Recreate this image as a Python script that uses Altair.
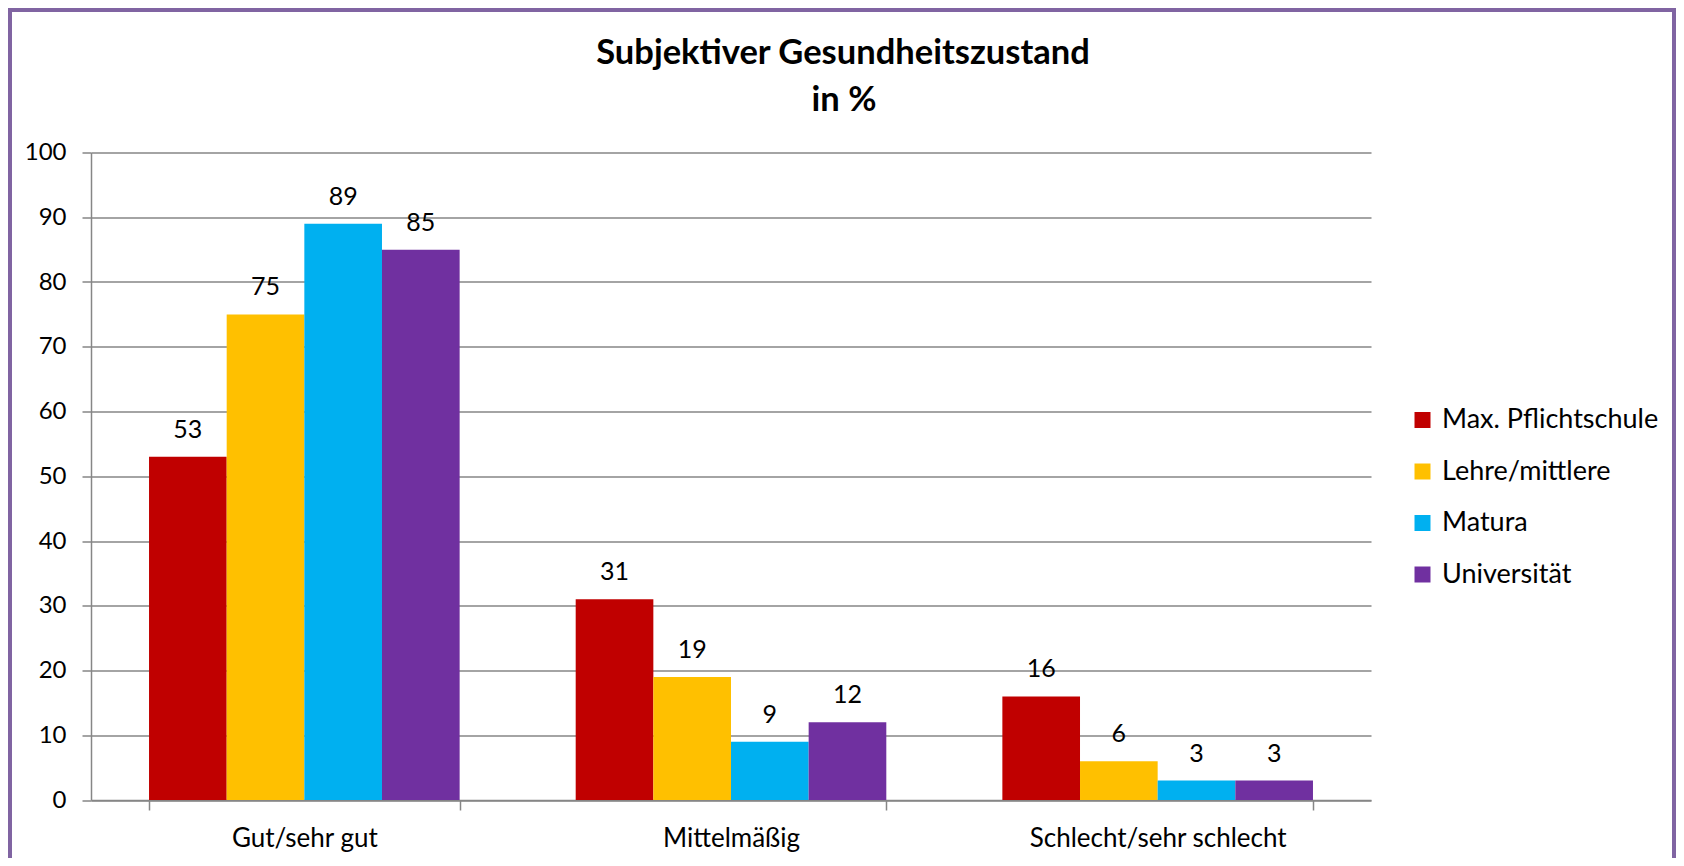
import altair as alt
import pandas as pd

categories = ["Gut/sehr gut", "Mittelmäßig", "Schlecht/sehr schlecht"]
series = ["Max. Pflichtschule", "Lehre/mittlere", "Matura", "Universität"]
val_pflicht = [53, 31, 16]
val_lehre = [75, 19, 6]
val_matura = [89, 9, 3]
val_uni = [85, 12, 3]
colors = ["#C00000", "#FFC000", "#00B0F0", "#7030A0"]
y_ticks = [0, 10, 20, 30, 40, 50, 60, 70, 80, 90, 100]
title_lines = ["Subjektiver Gesundheitszustand", "in %"]

series_values = [val_pflicht, val_lehre, val_matura, val_uni]
rows = []
for s, vals in zip(series, series_values):
    for c, v in zip(categories, vals):
        rows.append({"cat": c, "series": s, "value": v})
df = pd.DataFrame(rows)
one = pd.DataFrame({"k": [0]})

FONT = "Lato"
GRID = "#868686"
FRAME = "#8064A2"

x_enc = alt.X(
    "cat:N",
    sort=categories,
    scale=alt.Scale(paddingInner=0.272, paddingOuter=0.136),
    axis=alt.Axis(
        title=None, labelAngle=0, tickBand="extent", grid=False,
        domainColor=GRID, domainWidth=1.5, tickColor=GRID, tickWidth=1.5, tickSize=10,
        labelFont=FONT, labelFontSize=26, labelColor="black", labelLimit=0,
        labelBaseline="alphabetic", labelPadding=36,
    ),
)
xo_enc = alt.XOffset("series:N", sort=series, scale=alt.Scale(paddingInner=0, paddingOuter=0))
y_enc = alt.Y(
    "value:Q",
    scale=alt.Scale(domain=[0, 100], nice=False),
    axis=alt.Axis(
        values=y_ticks, title=None, grid=True, gridColor=GRID, gridWidth=1.5,
        domainColor=GRID, domainWidth=1.5, tickColor=GRID, tickWidth=1.5, tickSize=9,
        labelFont=FONT, labelFontSize=24, labelColor="black", labelPadding=16,
    ),
)
color_enc = alt.Color(
    "series:N",
    scale=alt.Scale(domain=series, range=colors),
    legend=alt.Legend(
        title=None, orient="none", legendX=1318, legendY=254,
        symbolType="square", symbolSize=256, symbolStrokeWidth=0, symbolOpacity=1,
        labelFont=FONT, labelFontSize=27, labelColor="black", labelOffset=6, labelLimit=0,
        rowPadding=23.5, padding=0,
    ),
)

bars = alt.Chart(df).mark_bar(opacity=1).encode(x=x_enc, xOffset=xo_enc, y=y_enc, color=color_enc)
labels = alt.Chart(df).mark_text(
    font=FONT, fontSize=25, baseline="alphabetic", align="center", dy=-19, color="black"
).encode(x=x_enc, xOffset=xo_enc, y=y_enc, text=alt.Text("value:Q"))

frame = alt.Chart(one).mark_rect(fillOpacity=0, stroke=FRAME, strokeWidth=4).encode(
    x=alt.value(-81), x2=alt.value(1583), y=alt.value(-142.5), y2=alt.value(760)
)
title1 = alt.Chart(one).mark_text(
    font=FONT, fontSize=34.5, fontWeight="bold", baseline="alphabetic", align="center", color="black"
).encode(x=alt.value(752), y=alt.value(-89), text=alt.value(title_lines[0]))
title2 = alt.Chart(one).mark_text(
    font=FONT, fontSize=34.5, fontWeight="bold", baseline="alphabetic", align="center", color="black"
).encode(x=alt.value(753), y=alt.value(-42), text=alt.value(title_lines[1]))

chart = alt.layer(frame, bars, labels, title1, title2).properties(
    width=1280,
    height=647.5,
    autosize=alt.AutoSizeParams(type="none"),
    padding={"left": 83, "top": 144.5, "right": 305, "bottom": 58},
    background="white",
).configure_view(stroke=None)

chart.save("out.html", embed_options={"renderer": "svg", "actions": False})
